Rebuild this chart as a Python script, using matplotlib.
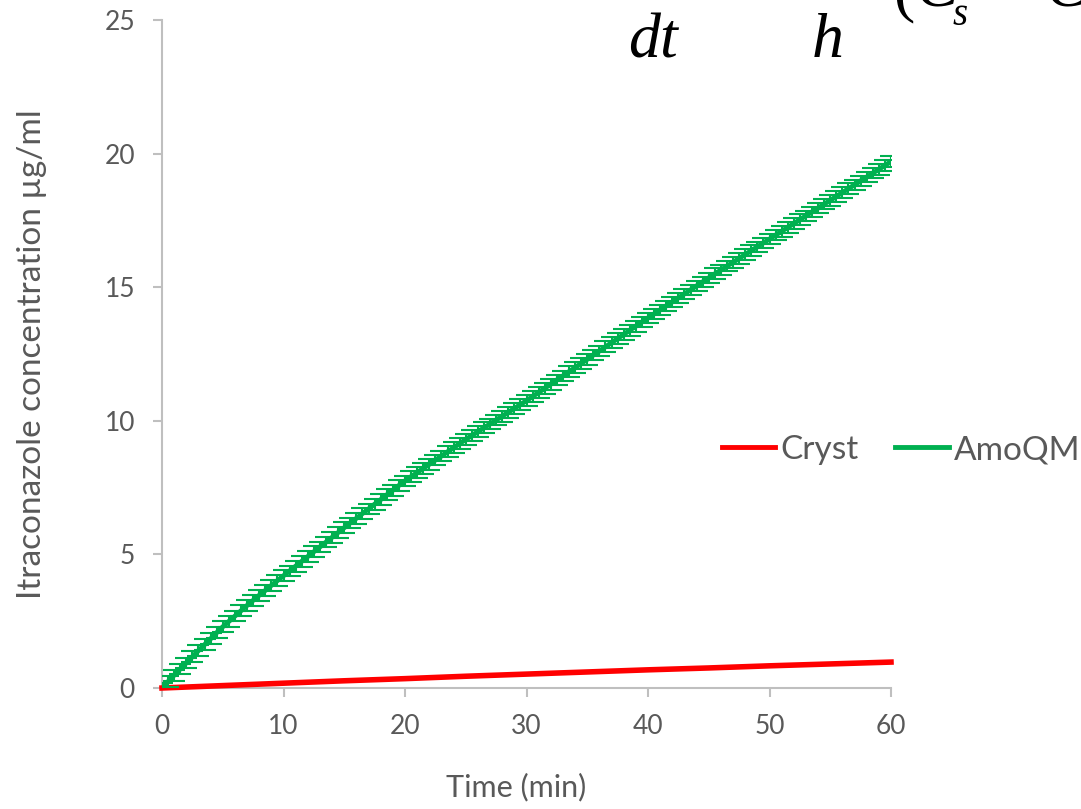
import matplotlib
matplotlib.use("Agg")
import matplotlib.pyplot as plt

# dissolution profile, itraconazole
time_amo = [
    0.0, 0.5, 1.0, 1.5, 2.0, 2.5, 3.0, 3.5, 4.0, 4.5,
    5.0, 5.5, 6.0, 6.5, 7.0, 7.5, 8.0, 8.5, 9.0, 9.5,
    10.0, 10.5, 11.0, 11.5, 12.0, 12.5, 13.0, 13.5, 14.0, 14.5,
    15.0, 15.5, 16.0, 16.5, 17.0, 17.5, 18.0, 18.5, 19.0, 19.5,
    20.0, 20.5, 21.0, 21.5, 22.0, 22.5, 23.0, 23.5, 24.0, 24.5,
    25.0, 25.5, 26.0, 26.5, 27.0, 27.5, 28.0, 28.5, 29.0, 29.5,
    30.0, 30.5, 31.0, 31.5, 32.0, 32.5, 33.0, 33.5, 34.0, 34.5,
    35.0, 35.5, 36.0, 36.5, 37.0, 37.5, 38.0, 38.5, 39.0, 39.5,
    40.0, 40.5, 41.0, 41.5, 42.0, 42.5, 43.0, 43.5, 44.0, 44.5,
    45.0, 45.5, 46.0, 46.5, 47.0, 47.5, 48.0, 48.5, 49.0, 49.5,
    50.0, 50.5, 51.0, 51.5, 52.0, 52.5, 53.0, 53.5, 54.0, 54.5,
    55.0, 55.5, 56.0, 56.5, 57.0, 57.5, 58.0, 58.5, 59.0, 59.5,
    60.0,
]
amoqm = [
    0.00, 0.24, 0.48, 0.71, 0.94, 1.17, 1.40, 1.62, 1.84, 2.07,
    2.29, 2.49, 2.69, 2.89, 3.09, 3.28, 3.47, 3.65, 3.84, 4.02,
    4.20, 4.38, 4.56, 4.74, 4.92, 5.10, 5.28, 5.46, 5.64, 5.82,
    6.00, 6.18, 6.35, 6.53, 6.70, 6.88, 7.05, 7.23, 7.40, 7.58,
    7.75, 7.91, 8.06, 8.22, 8.37, 8.53, 8.68, 8.84, 8.99, 9.15,
    9.30, 9.45, 9.59, 9.74, 9.88, 10.03, 10.17, 10.32, 10.46, 10.61,
    10.75, 10.91, 11.06, 11.22, 11.37, 11.53, 11.68, 11.84, 11.99, 12.15,
    12.30, 12.46, 12.61, 12.77, 12.92, 13.08, 13.23, 13.39, 13.54, 13.70,
    13.85, 14.00, 14.15, 14.30, 14.45, 14.60, 14.75, 14.90, 15.05, 15.20,
    15.35, 15.50, 15.64, 15.79, 15.93, 16.08, 16.22, 16.37, 16.51, 16.66,
    16.80, 16.95, 17.09, 17.24, 17.38, 17.53, 17.67, 17.82, 17.96, 18.11,
    18.25, 18.40, 18.54, 18.69, 18.83, 18.98, 19.12, 19.27, 19.41, 19.56,
    19.70,
]
amoqm_err = 0.2

time_cryst = [0, 5, 10, 15, 20, 25, 30, 35, 40, 45, 50, 55, 60]
cryst = [0.00, 0.09, 0.18, 0.27, 0.35, 0.44, 0.52, 0.60, 0.68, 0.75, 0.83, 0.90, 0.97]

x_ticks = [0, 10, 20, 30, 40, 50, 60]
y_ticks = [0, 5, 10, 15, 20, 25]

GREY = "#595959"
AXIS = "#BFBFBF"
RED = "#FF0000"
GREEN = "#00B050"

plt.rcParams["font.family"] = ["Lato", "DejaVu Sans"]

fig = plt.figure(figsize=(10.81, 8.09), dpi=100)
ax = fig.add_axes([162 / 1081, 1 - 688 / 809, (891 - 162) / 1081, (688 - 20) / 809])

ax.plot(time_cryst, cryst, color=RED, lw=4, label="Cryst", zorder=3, clip_on=False)
ax.errorbar(time_amo, amoqm, yerr=amoqm_err, color=GREEN, lw=3.5, elinewidth=1.5,
            capsize=8, capthick=1.5, label="AmoQM", zorder=4)

ax.set_xlim(0, 60)
ax.set_ylim(0, 25)
ax.set_xticks(x_ticks)
ax.set_yticks(y_ticks)
for side in ("top", "right"):
    ax.spines[side].set_visible(False)
for side in ("left", "bottom"):
    ax.spines[side].set_color(AXIS)
    ax.spines[side].set_linewidth(1.5)
    ax.spines[side].set_zorder(1)
ax.tick_params(colors=AXIS, labelcolor=GREY, labelsize=19, length=6.5, width=1.5)
ax.tick_params(axis="x", pad=12)
ax.tick_params(axis="y", pad=13)

ax.set_xlabel("Time (min)", color=GREY, fontsize=22)
ax.xaxis.set_label_coords(0.486, -0.127)
ax.set_ylabel("Itraconazole concentration µg/ml", color=GREY, fontsize=24)
ax.yaxis.set_label_coords(-0.158, 0.5)

labels = ["Cryst", "AmoQM"]
handles = [plt.Line2D([], [], color=RED, lw=3.5), plt.Line2D([], [], color=GREEN, lw=3.5)]
fig.legend(handles, labels, loc="center left", bbox_to_anchor=(722 / 1081, 1 - 450 / 809),
           ncol=2, frameon=False, fontsize=24, labelcolor=GREY, handlelength=1.6,
           handletextpad=0.15, columnspacing=1.1, borderaxespad=0, borderpad=0)

# rate equation peeking in at the top right
eq = dict(family=["Liberation Serif", "DejaVu Serif"], color="black", va="baseline")
fig.text(628 / 1081, 1 - 57 / 809, "dt", style="italic", fontsize=46, **eq)
fig.text(812 / 1081, 1 - 57 / 809, "h", style="italic", fontsize=46, **eq)
fig.text(893 / 1081, 1 - 9 / 809, "(", fontsize=46, **eq)
fig.text(915 / 1081, 1 - 5 / 809, "C", style="italic", fontsize=46, **eq)
fig.text(953 / 1081, 1 - 25 / 809, "s", style="italic", fontsize=28, **eq)
fig.text(1045 / 1081, 1 - 5 / 809, "C", style="italic", fontsize=46, **eq)

fig.savefig("out.png", dpi=100)
